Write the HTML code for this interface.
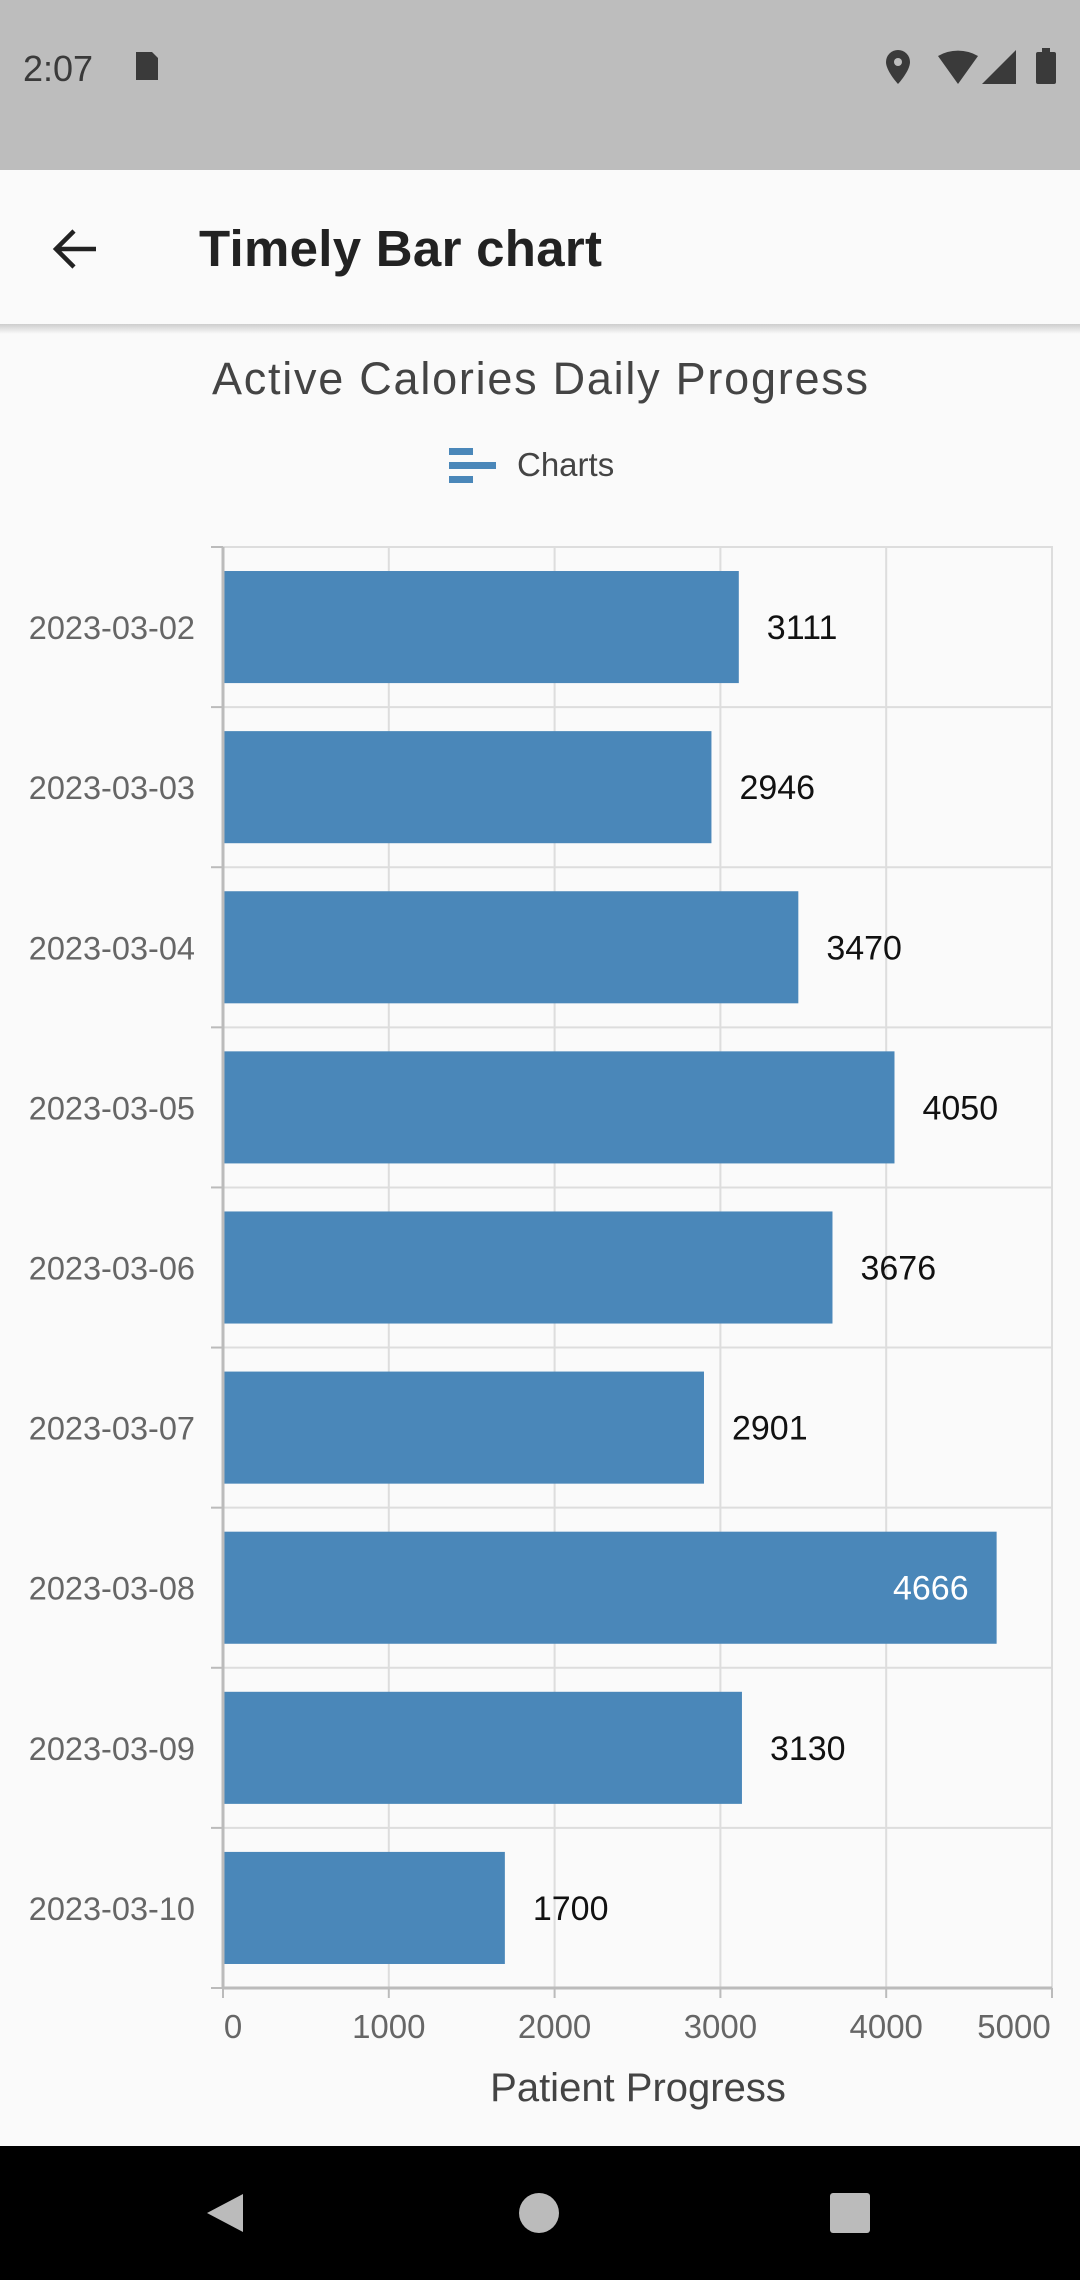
<!DOCTYPE html>
<html><head><meta charset="utf-8"><style>
html,body{margin:0;padding:0;width:1080px;height:2280px;background:#fafafa;overflow:hidden;font-family:"Liberation Sans",sans-serif}
</style></head><body>
<svg width="1080" height="2280" xmlns="http://www.w3.org/2000/svg">
<defs><linearGradient id="sh" x1="0" y1="0" x2="0" y2="1"><stop offset="0" stop-color="#000" stop-opacity="0.18"/><stop offset="1" stop-color="#000" stop-opacity="0"/></linearGradient></defs>
<rect x="0" y="0" width="1080" height="170" fill="#bdbdbd"/>
<text x="23" y="81" font-size="36" fill="#3a3a3a">2:07</text>
<path d="M136 52h16l6 6v22h-22z" fill="#3a3a3a"/>
<g fill="#3a3a3a">
<path d="M898 50a12 12 0 0 1 12 12c0 9-12 22-12 22s-12-13-12-22a12 12 0 0 1 12-12z"/>
<circle cx="898" cy="62" r="4" fill="#bdbdbd"/>
<path d="M938 56 a40 40 0 0 1 40 0 l-20 28z"/>
<path d="M1016 50v34h-34z"/>
<rect x="1036" y="52" width="20" height="32" rx="2"/><rect x="1042" y="48" width="8" height="5"/>
</g>
<rect x="0" y="170" width="1080" height="154" fill="#fafafa"/>
<rect x="0" y="324" width="1080" height="10" fill="url(#sh)"/>
<path d="M96 249H58M74 231L56 249L74 267" stroke="#222" stroke-width="4.5" fill="none"/>
<text x="199" y="266" font-size="51" font-weight="bold" fill="#222" textLength="403">Timely Bar chart</text>
<text x="540" y="394" font-size="45" fill="#444" text-anchor="middle" textLength="656">Active Calories Daily Progress</text>
<g fill="#4a87b9"><rect x="449" y="448" width="24" height="7"/><rect x="449" y="462" width="47" height="7"/><rect x="449" y="476" width="24" height="7"/></g>
<text x="517" y="476" font-size="33" fill="#444">Charts</text>
<g id="chart"></g>
<text x="638" y="2101" font-size="40" fill="#444" text-anchor="middle">Patient Progress</text>
<rect x="0" y="2146" width="1080" height="134" fill="#000"/>
<path d="M243 2194v38l-36-19z" fill="#bbb"/>
<circle cx="539" cy="2213" r="20" fill="#bbb"/>
<rect x="830" y="2193" width="40" height="40" rx="3" fill="#bbb"/>
</svg>
<script>
const categories=["2023-03-02","2023-03-03","2023-03-04","2023-03-05","2023-03-06","2023-03-07","2023-03-08","2023-03-09","2023-03-10"];
const values=[3111,2946,3470,4050,3676,2901,4666,3130,1700];
const xTicks=[0,1000,2000,3000,4000,5000];
const xMax=5000;
const L=223,R=1052,T=547,B=1988;
const ns="http://www.w3.org/2000/svg";
const g=document.getElementById('chart');
const band=(B-T)/categories.length;
const x=v=>L+(v/xMax)*(R-L);
const y=i=>T+i*band;
function el(t,a,txt){const e=document.createElementNS(ns,t);for(const k in a)e.setAttribute(k,a[k]);if(txt!=null)e.textContent=txt;g.appendChild(e);return e;}
let e=el('rect',{x:L,y:T,width:R-L,height:B-T,fill:'none',stroke:'#ddd','stroke-width':2});


xTicks.forEach(t=>{
 let gl=el('line',{x1:x(t),x2:x(t),y1:T,y2:B,stroke:'#ddd','stroke-width':2});
 
 
 let tk=el('line',{x1:x(t),x2:x(t),y1:B,y2:B+10,stroke:'#bbb','stroke-width':2});
 
 
 let tl=el('text',{x:x(t)+(t===0?10:t===xMax?-38:0),y:B+50,'font-size':33,fill:'#666','text-anchor':'middle'},String(t));
 
 
});
for(let i=0;i<=categories.length;i++){
 let hl=el('line',{x1:L,x2:R,y1:y(i),y2:y(i),stroke:'#ddd','stroke-width':2});
 
 
 let tk=el('line',{x1:L-12,x2:L,y1:y(i),y2:y(i),stroke:'#bbb','stroke-width':2});
 
 
}
categories.forEach((c,i)=>{
 const cy=y(i)+band/2;
 let lb=el('text',{x:195,y:cy+12,'font-size':32.5,fill:'#666','text-anchor':'end'},c);
 
 
 const h=band*0.7;
 let b=el('rect',{x:L,y:cy-h/2,width:x(values[i])-L,height:h,fill:'#4a87b9'});
 
 
 const inside=x(values[i])+100>R;
 let v=el('text',{x:inside?x(values[i])-28:x(values[i])+28,y:cy+12,'font-size':34,fill:inside?'#fff':'#111','text-anchor':inside?'end':'start'},String(values[i]));
 
 
});
let ax=el('line',{x1:L,x2:L,y1:T,y2:B,stroke:'#bbb','stroke-width':3});


let bx=el('line',{x1:L,x2:R,y1:B,y2:B,stroke:'#bbb','stroke-width':3});


</script>
</body></html>
